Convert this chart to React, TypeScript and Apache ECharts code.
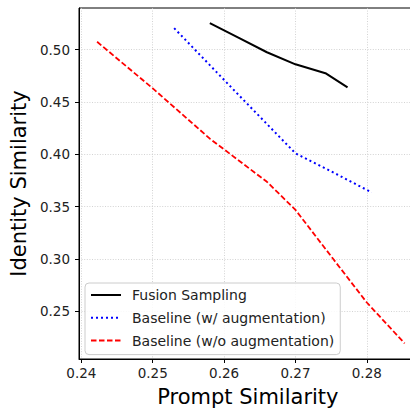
import React, { useEffect, useRef } from "react";
import * as echarts from "echarts";

const xTicks = [0.24, 0.25, 0.26, 0.27, 0.28];
const yTicks = [0.25, 0.3, 0.35, 0.4, 0.45, 0.5];

const fusionX = [0.258, 0.262, 0.266, 0.27, 0.2742, 0.2773];
const fusionY = [0.5253, 0.5115, 0.4975, 0.486, 0.4775, 0.464];

const augX = [0.253, 0.2615, 0.27, 0.2755, 0.2807];
const augY = [0.5205, 0.4605, 0.401, 0.382, 0.3636];

const noAugX = [0.2422, 0.25, 0.258, 0.266, 0.27, 0.2753, 0.28, 0.2853];
const noAugY = [0.5075, 0.463, 0.415, 0.3738, 0.347, 0.3, 0.2585, 0.2195];

const seriesNames = [
  "Fusion Sampling",
  "Baseline (w/ augmentation)",
  "Baseline (w/o augmentation)",
];

const pairs = (xs: number[], ys: number[]) => xs.map((x, i) => [x, ys[i]]);

const FONT = "DejaVu Sans";

export default function App() {
  const ref = useRef<HTMLDivElement>(null);
  useEffect(() => {
    if (!ref.current) return;
    const chart = echarts.init(ref.current, null, { renderer: "svg" });
    chart.setOption({
      animation: false,
      backgroundColor: "#ffffff",
      grid: {
        left: 78.3,
        top: 8,
        width: 338.45,
        height: 354,
        show: true,
        borderColor: "#000",
        borderWidth: 1,
        backgroundColor: "transparent",
      },
      legend: {
        orient: "vertical",
        left: 85,
        top: 283,
        padding: [5, 6, 7, 5],
        itemWidth: 30,
        itemHeight: 14,
        itemGap: 8.8,
        backgroundColor: "rgba(255,255,255,0.85)",
        borderColor: "#cccccc",
        borderWidth: 1,
        borderRadius: 4,
        itemStyle: { color: "transparent", borderWidth: 0, opacity: 0 },
        textStyle: {
          fontFamily: FONT,
          fontSize: 14,
          color: "#222",
          padding: [0, 0, 0, 6],
        },
        data: seriesNames,
      },
      xAxis: {
        type: "value",
        min: 0.239664,
        max: 0.287,
        name: "Prompt Similarity",
        nameLocation: "middle",
        nameGap: 27,
        nameTextStyle: { fontFamily: FONT, fontSize: 21, color: "#000" },
        axisLine: { show: true, lineStyle: { color: "#000", width: 1 } },
        axisTick: {
          show: true,
          inside: false,
          length: 4,
          lineStyle: { color: "#000", width: 1 },
          customValues: xTicks,
        },
        axisLabel: {
          fontFamily: FONT,
          fontSize: 13.5,
          color: "#222",
          margin: 7,
          customValues: xTicks,
          formatter: (v: number) => v.toFixed(2),
        },
        splitLine: {
          show: true,
          lineStyle: { color: "#c8c8c8", width: 0.8, type: [1, 1.6] },
        },
      },
      yAxis: {
        type: "value",
        min: 0.20455,
        max: 0.53977,
        name: "Identity Similarity",
        nameLocation: "middle",
        nameGap: 50,
        nameTextStyle: { fontFamily: FONT, fontSize: 21, color: "#000" },
        axisLine: { show: true, lineStyle: { color: "#000", width: 1 } },
        axisTick: {
          show: true,
          inside: false,
          length: 4,
          lineStyle: { color: "#000", width: 1 },
          customValues: yTicks,
        },
        axisLabel: {
          fontFamily: FONT,
          fontSize: 13.5,
          color: "#222",
          margin: 9,
          customValues: yTicks,
          formatter: (v: number) => v.toFixed(2),
        },
        splitLine: {
          show: true,
          lineStyle: { color: "#c8c8c8", width: 0.8, type: [1, 1.6] },
        },
      },
      series: [
        {
          name: seriesNames[0],
          type: "line",
          data: pairs(fusionX, fusionY),
          symbol: "none",
          lineStyle: { color: "#000000", width: 2, type: "solid" },
          itemStyle: { color: "#000000" },
        },
        {
          name: seriesNames[1],
          type: "line",
          data: pairs(augX, augY),
          symbol: "none",
          lineStyle: { color: "#0000ff", width: 2, type: [2, 3] },
          itemStyle: { color: "#0000ff" },
        },
        {
          name: seriesNames[2],
          type: "line",
          data: pairs(noAugX, noAugY),
          symbol: "none",
          lineStyle: { color: "#ff0000", width: 1.8, type: [5.5, 2.5] },
          itemStyle: { color: "#ff0000" },
        },
      ],
    });
    return () => chart.dispose();
  }, []);
  return (
    <div
      style={{
        position: "fixed",
        left: 0,
        top: 0,
        width: 410,
        height: 412,
        overflow: "hidden",
        background: "#fff",
      }}
    >
      <div ref={ref} style={{ width: 430, height: 412 }} />
    </div>
  );
}
